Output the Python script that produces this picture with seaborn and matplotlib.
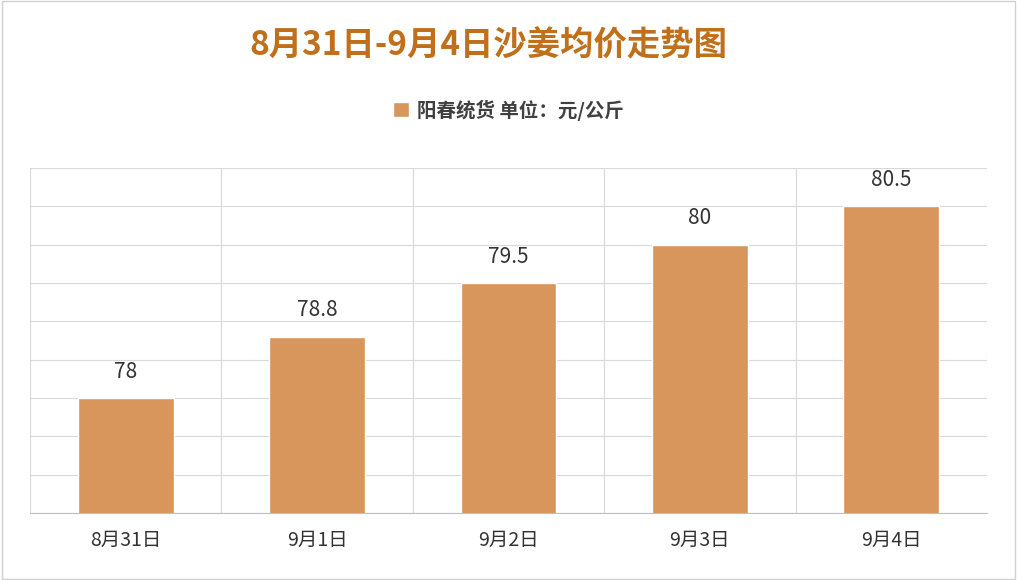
import matplotlib
matplotlib.use('Agg')
import matplotlib.pyplot as plt
import seaborn as sns
import pandas as pd
import numpy as np

dates = ['8月31日', '9月1日', '9月2日', '9月3日', '9月4日']
prices = [78, 78.8, 79.5, 80, 80.5]
labels = ['78', '78.8', '79.5', '80', '80.5']

sns.set_style('white')
plt.rcParams['font.family'] = ['Noto Sans CJK SC', 'DejaVu Sans']

df = pd.DataFrame({'date': dates, 'price': prices})
fig = plt.figure(figsize=(10.17, 5.8), dpi=100)
ax = fig.add_axes([30 / 1017, 1 - 513 / 580, 957 / 1017, 345 / 580])
sns.barplot(data=df, x='date', y='price', color='#D8965C', width=0.5, ax=ax,
            saturation=1, label='阳春统货 单位：元/公斤')
handles, lbls = ax.get_legend_handles_labels()
ax.get_legend().remove()
ax.set_ylim(76.5, 81)
ax.set_yticks(np.arange(76.5, 81.01, 0.5))
ax.set_xlim(-0.5, 4.5)
ax.set_xticks(np.arange(-0.5, 4.6, 1), minor=True)
ax.grid(True, axis='y', color='#D9D9D9', lw=0.8)
ax.grid(True, axis='x', which='minor', color='#D9D9D9', lw=0.8)
ax.set_axisbelow(True)
ax.tick_params(axis='y', left=False, labelleft=False)
ax.tick_params(axis='x', which='both', length=0, labelsize=14, pad=12, labelcolor='#333333')
for s in ['left', 'right', 'top']:
    ax.spines[s].set_visible(False)
ax.spines['bottom'].set_color('#BFBFBF')
ax.set_xlabel('')
ax.set_ylabel('')
for i, (v, t) in enumerate(zip(prices, labels)):
    ax.text(i, v + 0.2, t, ha='center', va='bottom', fontsize=15, color='#333333')

fig.text(0.48, 1 - 45 / 580, '8月31日-9月4日沙姜均价走势图', ha='center', va='center',
         fontsize=24, fontweight='bold', color='#C0701A')
fig.legend(handles, lbls, loc='center', bbox_to_anchor=(0.5, 1 - 110 / 580), frameon=False,
           prop={'size': 14, 'weight': 'bold'}, labelcolor='#404040', handlelength=0.8,
           handleheight=0.8, handletextpad=0.4)
fig.patches.append(plt.Rectangle((0.002, 0.002), 0.996, 0.996, transform=fig.transFigure,
                                 fill=False, ec='#D0D0D0', lw=1))
fig.savefig('out.png', dpi=100)
